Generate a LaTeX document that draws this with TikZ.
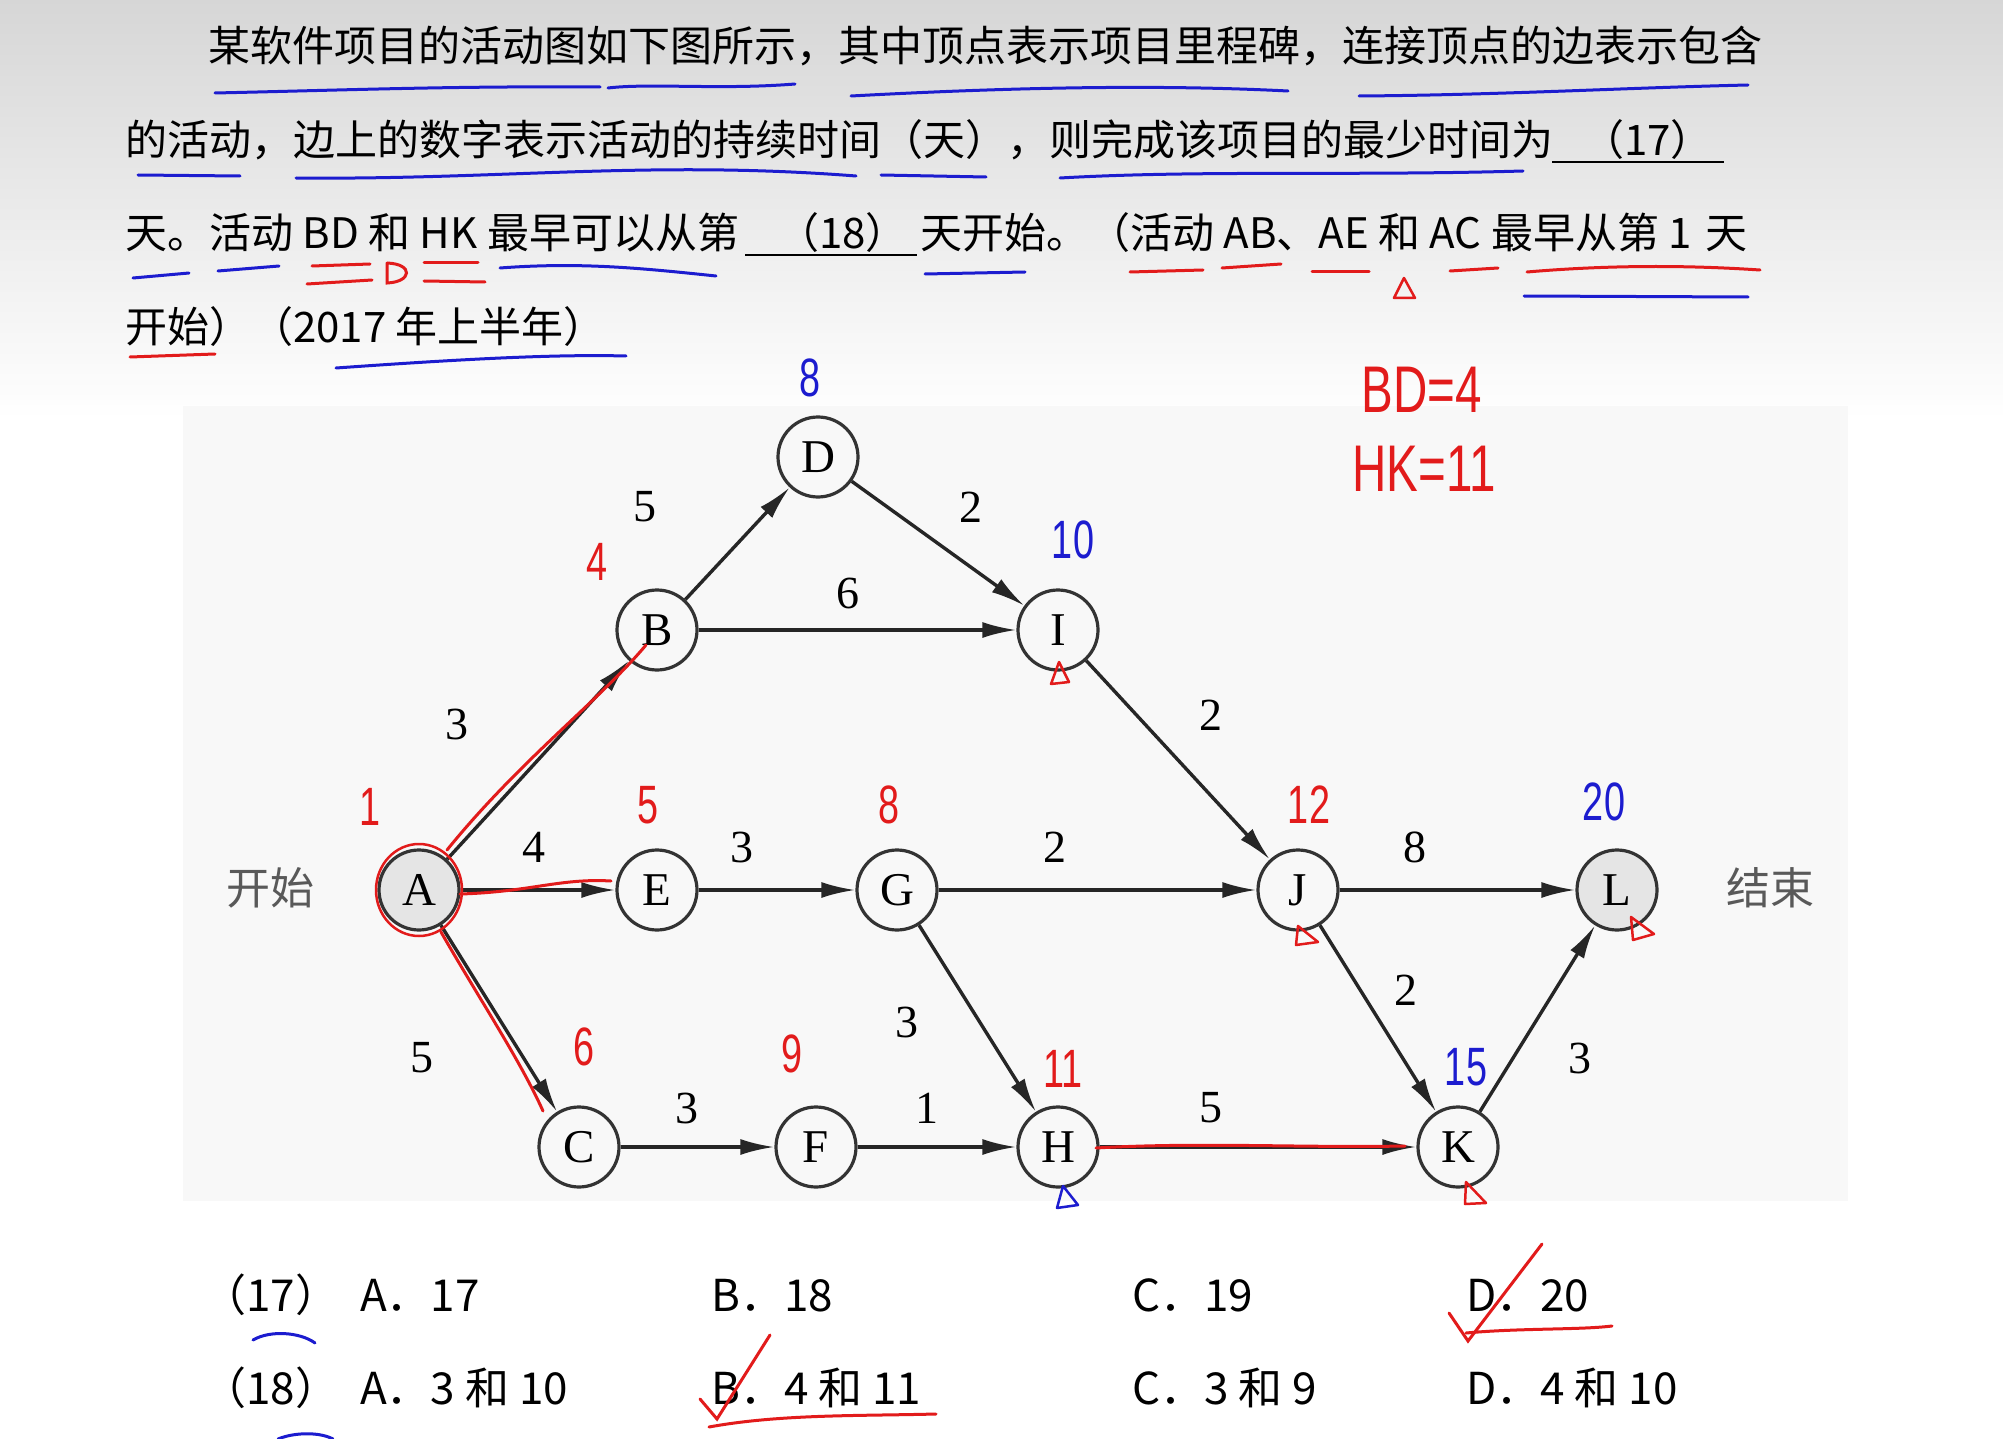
\documentclass[tikz,border=0pt]{standalone}
\usepackage{fontspec}
\setmainfont{Liberation Serif}
\newfontfamily\cjk{Noto Sans CJK SC}
\newfontfamily\hand{Liberation Sans}
\usetikzlibrary{arrows.meta}
\definecolor{hred}{HTML}{E21B1B}
\definecolor{hblue}{HTML}{1C1CCF}
\definecolor{graybg}{HTML}{F8F8F8}
\begin{document}
\begin{tikzpicture}[x=1pt,y=-1pt,
  qtext/.style={anchor=base west, inner sep=0, font=\cjk\fontsize{42}{42}\selectfont},
  otext/.style={anchor=base west, inner sep=0, font=\cjk\fontsize{44}{44}\selectfont},
  vert/.style={circle, draw=black!80, line width=3.2pt, minimum size=80pt, inner sep=0, fill=graybg, font=\fontsize{47}{47}\selectfont},
  endvert/.style={vert, fill=black!10},
  edge/.style={line width=3.4pt, draw=black!85, -{Latex[length=34pt,width=16pt]}},
  elab/.style={font=\fontsize{46}{46}\selectfont, inner sep=0},
  side/.style={font=\cjk\fontsize{44}{44}\selectfont, text=black!65, inner sep=0},
  hw/.style={font=\hand\fontsize{54}{54}\selectfont, inner sep=0},
  hr/.style={hw, text=hred},
  hb/.style={hw, text=hblue},
  ul/.style={line width=3pt, line cap=round},
  tri/.style={line width=2.5pt, line join=round}]
\useasboundingbox (0,0) rectangle (2003,1439);
\fill[white] (0,0) rectangle (2003,1439);
\shade[top color=black!16, bottom color=white] (0,0) rectangle (2003,420);
\fill[graybg] (183,406) rectangle (1848,1201);

% question text
\node[qtext] (q1) at (208,62) {某软件项目的活动图如下图所示，其中顶点表示项目里程碑，连接顶点的边表示包含};
\node[qtext] (q2) at (125,156) {的活动，边上的数字表示活动的持续时间（天），则完成该项目的最少时间为};
\node[qtext] (q2b) at (1582,156) {（17）};
\node[qtext] (q3a) at (125,249) {天。活动 BD 和 HK 最早可以从第};
\node[qtext] (q3b) at (777,249) {（18）};
\node[qtext] (q3c) at (920,249) {天开始。（活动 AB、AE 和 AC 最早从第 1\,\,天};
\node[qtext] (q4) at (125,342) {开始）（2017 年上半年）};
\coordinate (b17s) at (1552,162); \coordinate (b17e) at (1724,162);
\coordinate (b18s) at (745,255); \coordinate (b18e) at (917,255);
\draw[line width=2.5pt] (b17s) -- (b17e);
\draw[line width=2.5pt] (b18s) -- (b18e);

% graph
\node[endvert] (A) at (419,890) {A};
\node[vert] (B) at (657,630) {B};
\node[vert] (D) at (818,457) {D};
\node[vert] (I) at (1058,630) {I};
\node[vert] (E) at (657,890) {E};
\node[vert] (G) at (897,890) {G};
\node[vert] (J) at (1298,890) {J};
\node[endvert] (L) at (1617,890) {L};
\node[vert] (C) at (579,1147) {C};
\node[vert] (F) at (816,1147) {F};
\node[vert] (H) at (1058,1147) {H};
\node[vert] (K) at (1458,1147) {K};
\node[side] (ks) at (270,888) {开始};
\node[side] (js) at (1770,888) {结束};

\draw[edge] (A) -- (B);
\draw[edge] (A) -- (E);
\draw[edge] (A) -- (C);
\draw[edge] (B) -- (D);
\draw[edge] (B) -- (I);
\draw[edge] (D) -- (I);
\draw[edge] (E) -- (G);
\draw[edge] (G) -- (J);
\draw[edge] (G) -- (H);
\draw[edge] (I) -- (J);
\draw[edge] (J) -- (L);
\draw[edge] (J) -- (K);
\draw[edge] (K) -- (L);
\draw[edge] (C) -- (F);
\draw[edge] (F) -- (H);
\draw[edge] (H) -- (K);

\node[elab] (lab) at (457,724) {3};
\node[elab] (lae) at (534,847) {4};
\node[elab] (lac) at (422,1058) {5};
\node[elab] (lbd) at (645,507) {5};
\node[elab] (lbi) at (848,593) {6};
\node[elab] (ldi) at (971,507) {2};
\node[elab] (leg) at (742,847) {3};
\node[elab] (lgj) at (1055,847) {2};
\node[elab] (lgh) at (907,1022) {3};
\node[elab] (lij) at (1211,715) {2};
\node[elab] (ljl) at (1415,847) {8};
\node[elab] (ljk) at (1406,990) {2};
\node[elab] (lkl) at (1580,1058) {3};
\node[elab] (lcf) at (687,1108) {3};
\node[elab] (lfh) at (927,1108) {1};
\node[elab] (lhk) at (1211,1108) {5};

% options
\node[otext] (o17) at (202,1311) {（17）};
\node[otext] (o17a) at (360,1311) {A．17};
\node[otext] (o17b) at (711,1311) {B．18};
\node[otext] (o17c) at (1132,1311) {C．19};
\node[otext] (o17d) at (1466,1311) {D．20};
\node[otext] (o18) at (202,1404) {（18）};
\node[otext] (o18a) at (360,1404) {A．3 和 10};
\node[otext] (o18b) at (711,1404) {B．4 和 11};
\node[otext] (o18c) at (1132,1404) {C．3 和 9};
\node[otext] (o18d) at (1466,1404) {D．4 和 10};

% handwritten numbers
\node[hb] (h8) at (810,378) {\scalebox{0.7}[1]{8}};
\node[hr] (h4) at (597,562) {\scalebox{0.7}[1]{4}};
\node[hb] (h10) at (1073,540) {\scalebox{0.7}[1]{10}};
\node[hr] (h1) at (370,807) {\scalebox{0.7}[1]{1}};
\node[hr] (h5) at (648,805) {\scalebox{0.7}[1]{5}};
\node[hr] (h8g) at (889,805) {\scalebox{0.7}[1]{8}};
\node[hr] (h12) at (1309,805) {\scalebox{0.7}[1]{12}};
\node[hb] (h20) at (1604,802) {\scalebox{0.7}[1]{20}};
\node[hr] (h6) at (584,1047) {\scalebox{0.7}[1]{6}};
\node[hr] (h9) at (792,1054) {\scalebox{0.7}[1]{9}};
\node[hr] (h11) at (1063,1069) {\scalebox{0.7}[1]{11}};
\node[hb] (h15) at (1466,1067) {\scalebox{0.7}[1]{15}};
\node[hr, font=\hand\fontsize{66}{66}\selectfont] (hbd) at (1422,390) {\scalebox{0.72}[1]{BD=4}};
\node[hr, font=\hand\fontsize{66}{66}\selectfont] (hhk) at (1424,469) {\scalebox{0.72}[1]{HK=11}};

% red marks on graph
\draw[hred, line width=2.5pt] (419,890) ellipse (43 and 46);
\draw[hred, ul] (447,850) .. controls (520,760) and (600,700) .. (646,645);
\draw[hred, ul] (460,894) .. controls (530,892) and (560,878) .. (611,881);
\draw[hred, ul] (441,932) .. controls (480,1000) and (520,1060) .. (543,1111);
\draw[hred, ul] (1096,1148) .. controls (1200,1142) and (1300,1148) .. (1405,1146);

% triangles
\draw[hred, tri] (1059,662) -- (1051,684) -- (1069,682) -- cycle;
\draw[hblue, tri] (1063,1186) -- (1057,1208) -- (1078,1205) -- cycle;
\draw[hred, tri] (1298,926) -- (1296,945) -- (1318,942) -- cycle;
\draw[hred, tri] (1466,1182) -- (1465,1204) -- (1486,1203) -- cycle;
\draw[hred, tri] (1631,917) -- (1633,940) -- (1654,934) -- cycle;
\draw[hred, tri] (1404,278) -- (1394,298) -- (1415,298) -- cycle;

% underlines line 1
\draw[hblue, ul] (215,93) .. controls (350,90) and (450,86) .. (600,87);
\draw[hblue, ul] (608,88) .. controls (650,83) and (720,90) .. (795,84);
\draw[hblue, ul] (851,96) .. controls (1000,88) and (1150,84) .. (1288,91);
\draw[hblue, ul] (1359,96) .. controls (1500,95) and (1620,88) .. (1748,85);
% line 2
\draw[hblue, ul] (138,175) -- (240,176);
\draw[hblue, ul] (296,178) .. controls (500,180) and (650,160) .. (856,176);
\draw[hblue, ul] (881,175) -- (986,177);
\draw[hblue, ul] (1060,178) .. controls (1200,170) and (1350,176) .. (1523,171);
% line 3
\draw[hblue, ul] (133,278) -- (189,273);
\draw[hblue, ul] (218,271) -- (279,266);
\draw[hred, ul] (312,266) -- (370,264);
\draw[hred, ul] (307,284) -- (372,280);
\draw[hred, ul] (387,263) -- (387,283) .. controls (412,282) and (414,264) .. (387,263);
\draw[hred, ul] (424,263) -- (478,263);
\draw[hred, ul] (424,281) -- (485,282);
\draw[hblue, ul] (500,268) .. controls (580,262) and (640,268) .. (716,276);
\draw[hblue, ul] (925,274) -- (1025,272);
\draw[hred, ul] (1130,272) -- (1203,270);
\draw[hred, ul] (1222,268) -- (1281,264);
\draw[hred, ul] (1312,272) -- (1369,272);
\draw[hred, ul] (1450,271) -- (1498,268);
\draw[hred, ul] (1527,272) .. controls (1620,264) and (1700,266) .. (1760,270);
\draw[hblue, ul] (1524,296) -- (1748,297);
% line 4
\draw[hred, ul] (130,357) -- (215,354);
\draw[hblue, ul] (336,368) .. controls (450,360) and (550,354) .. (626,356);
% options marks
\draw[hblue, ul] (253,1340) .. controls (270,1330) and (300,1332) .. (315,1343);
\draw[hblue, ul] (278,1439) .. controls (295,1432) and (320,1432) .. (333,1439);
\draw[hred, ul] (700,1399) -- (717,1419) -- (770,1335);
\draw[hred, ul] (709,1427) .. controls (780,1414) and (860,1416) .. (936,1414);
\draw[hred, ul] (1449,1313) -- (1468,1341) -- (1542,1244);
\draw[hred, ul] (1466,1333) .. controls (1520,1328) and (1580,1330) .. (1612,1326);
\end{tikzpicture}
\end{document}
